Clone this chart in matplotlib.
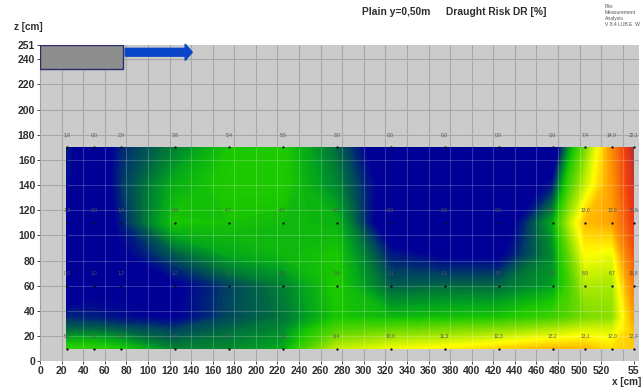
import matplotlib
matplotlib.use("Agg")
import matplotlib.pyplot as plt
from matplotlib.colors import LinearSegmentedColormap
from matplotlib.patches import FancyArrow, Rectangle
import numpy as np

# measuring points
x_points = [25, 50, 75, 125, 175, 225, 275, 325, 375, 425, 475, 505, 530, 550]
z_points = [10, 60, 110, 170]

# Printed value labels, as far as they can be read
labels_z10 = ["5,6", "5,7", "5,1", "2,9", "3,8", "5,1", "9,4", "10,6", "11,3", "12,3", "13,2", "13,1", "12,0", "12,7"]
labels_z60 = ["0,5", "1,0", "1,2", "1,2", "2,7", "4,5", "5,8", "3,1", "4,1", "3,0", "5,5", "8,9", "8,7", "15,8"]
labels_z110 = ["1,3", "0,0", "1,8", "5,4", "4,7", "4,7", "4,5", "0,0", "0,0", "0,0", "5,1", "13,0", "13,9", "19,5"]
labels_z170 = ["1,8", "0,0", "2,9", "3,8", "5,4", "5,5", "3,0", "0,0", "0,0", "0,0", "0,0", "7,4", "14,9", "22,1"]

x_field = [25, 50, 75, 125, 175, 225, 275, 325, 375, 425, 475, 490, 505, 530, 550]
z_field = [10, 25, 35, 60, 85, 110, 140, 170]
dr_z10 = [5.6, 5.7, 5.1, 3.4, 3.6, 4.2, 9.4, 10.6, 11.3, 12.3, 13.2, 13.2, 13.1, 12.0, 12.7]
dr_z25 = [3.0, 3.0, 2.8, 2.4, 3.0, 3.6, 6.5, 7.0, 7.5, 8.0, 9.0, 9.5, 10.0, 10.0, 13.0]
dr_z35 = [2.0, 1.9, 1.6, 1.3, 2.5, 3.2, 5.0, 4.6, 4.8, 5.0, 6.0, 6.6, 7.5, 8.0, 14.0]
dr_z60 = [0.5, 1.0, 1.2, 1.2, 2.4, 3.4, 5.2, 2.8, 3.0, 3.0, 4.0, 6.0, 8.9, 8.7, 15.8]
dr_z85 = [1.0, 0.8, 1.2, 2.8, 4.2, 4.6, 5.0, 1.8, 1.2, 1.2, 3.6, 7.0, 11.0, 10.5, 18.0]
dr_z110 = [1.3, 0.0, 1.8, 5.0, 4.9, 4.7, 4.5, 0.0, 0.0, 0.0, 4.2, 9.0, 13.0, 13.9, 19.5]
dr_z140 = [1.6, 0.0, 2.2, 4.4, 5.2, 5.2, 3.5, 0.6, 0.0, 0.0, 1.8, 6.0, 9.5, 14.5, 21.0]
dr_z170 = [1.8, 0.0, 2.0, 3.4, 5.0, 5.2, 3.0, 0.0, 0.0, 0.0, 0.0, 3.8, 7.4, 14.9, 22.1]

x_ticks = list(range(0, 540, 20)) + [550]
x_tick_labels = [str(t) for t in range(0, 540, 20)] + ["55"]
x_grid = list(range(20, 560, 20))
z_ticks = list(range(0, 260, 20)) + [251]
z_grid = list(range(20, 260, 20))

dr_levels = [
    (0.0, "#000096"), (1.4, "#000096"), (3.0, "#006a40"), (4.0, "#00a020"),
    (5.0, "#18c800"), (8.0, "#8ae000"), (11.0, "#ffff00"), (14.0, "#ffa000"),
    (19.5, "#f03a10"), (23.0, "#a03040"),
]
dr_max = 23.0
dr_cmap = LinearSegmentedColormap.from_list(
    "dr", [(v / dr_max, c) for v, c in dr_levels]
)

plt.rcParams["font.family"] = ["Liberation Sans", "DejaVu Sans"]

fig = plt.figure(figsize=(6.42, 3.88), dpi=100)
ax = fig.add_axes([40 / 642, 1 - 361.2 / 388, 599 / 642, 316.5 / 388])
ax.set_xlim(0, 555)
ax.set_ylim(0, 251.5)
ax.set_facecolor("#cbcbcb")

# Gray grid under everything
for xg in x_grid:
    ax.axvline(xg, color="#a8a8a8", lw=0.8, zorder=1)
for zg in z_grid:
    ax.axhline(zg, color="#a8a8a8", lw=0.8, zorder=1)

dr_all = np.array([dr_z10, dr_z25, dr_z35, dr_z60, dr_z85, dr_z110, dr_z140, dr_z170])
ax.contourf(x_field, z_field, dr_all, levels=np.linspace(0, dr_max, 231), cmap=dr_cmap,
            vmin=0, vmax=dr_max, zorder=2, antialiased=False)

# Grid shows through the coloured field as a lighter line
for xg in x_grid:
    if x_points[0] < xg < x_points[-1]:
        ax.vlines(xg, z_points[0], z_points[-1], color="white", alpha=0.2, lw=0.8, zorder=3)
for zg in z_grid:
    if z_points[0] < zg < z_points[-1]:
        ax.hlines(zg, x_points[0], x_points[-1], color="white", alpha=0.2, lw=0.8, zorder=3)

# Points and their value labels
for zp, row in zip(z_points, [labels_z10, labels_z60, labels_z110, labels_z170]):
    for xp, val in zip(x_points, row):
        ax.plot(xp, zp, "o", ms=1.7, color="#111111", mew=0, zorder=4)
        ax.text(xp, zp + 10, val, fontsize=3.6, color="#555555",
                ha="center", va="center", zorder=4)

# Inlet box and flow arrow
ax.add_patch(Rectangle((0, 232), 77, 19.5, fc="#8e8e8e", ec="#2c2c70", lw=1.0, zorder=5))
ax.add_patch(FancyArrow(79, 245.5, 62, 0, width=6.2, head_width=13, head_length=6.5,
                        length_includes_head=True, color="#0a46c8", zorder=5, clip_on=False))

ax.set_xticks(x_ticks, x_tick_labels)
ax.set_yticks(z_ticks)
ax.tick_params(axis="both", labelsize=7.5, length=2, width=0.7, pad=1.5, color="#444444")
for lab in ax.get_xticklabels() + ax.get_yticklabels():
    lab.set_fontweight("bold")
    lab.set_color("#2e2e2e")
for name, spine in ax.spines.items():
    spine.set_visible(name == "left")
    spine.set_color("#a0a0a0")

bold = dict(fontweight="bold", color="#2e2e2e", va="center")
fig.text(14 / 642, 1 - 27 / 388, "z [cm]", fontsize=7.2, **bold)
fig.text(612 / 642, 1 - 382 / 388, "x [cm]", fontsize=7.2, **bold)
fig.text(362 / 642, 1 - 12 / 388, "Plain y=0,50m", fontsize=7.4, **bold)
fig.text(446 / 642, 1 - 12 / 388, "Draught Risk DR [%]", fontsize=7.4, **bold)
for i, line in enumerate(["File:", "Measurement", "Analysis", "V 8.4 LUB.E  W"]):
    fig.text(605 / 642, 1 - (6.5 + i * 6) / 388, line, fontsize=3.6, color="#555555", va="center")

fig.savefig("out.png", dpi=100)
